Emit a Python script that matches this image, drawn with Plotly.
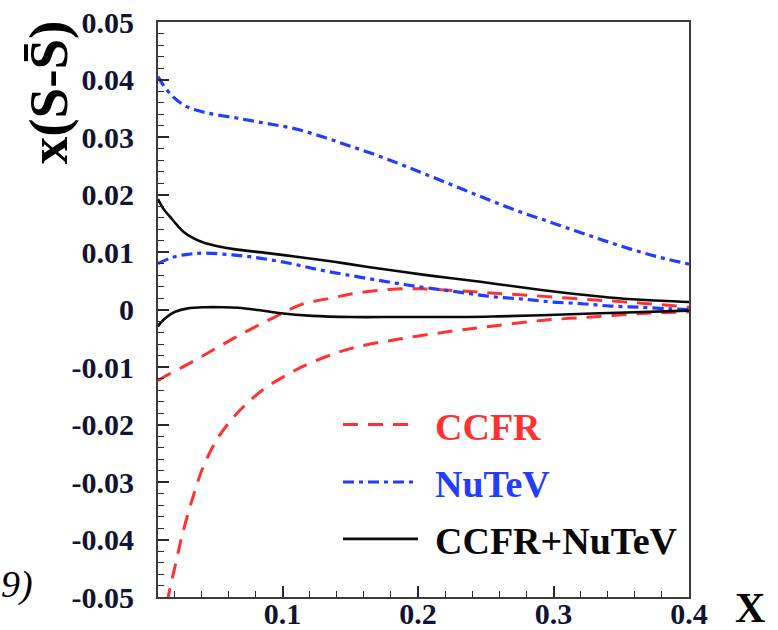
import plotly.graph_objects as go

# NuTeV band (blue dash-dot)
nutev_up_x = [0.008, 0.012, 0.02, 0.03, 0.044, 0.066, 0.087, 0.108, 0.13, 0.15, 0.171, 0.192, 0.212, 0.233, 0.253, 0.274, 0.295, 0.316, 0.336, 0.357, 0.378, 0.4]
nutev_up_y = [0.0405, 0.0390, 0.0368, 0.0352, 0.0342, 0.0333, 0.0324, 0.0315, 0.0300, 0.0284, 0.0267, 0.0248, 0.0229, 0.0209, 0.0190, 0.0171, 0.0154, 0.0137, 0.0121, 0.0105, 0.0091, 0.0079]
nutev_lo_x = [0.008, 0.019, 0.03, 0.041, 0.063, 0.084, 0.106, 0.127, 0.148, 0.170, 0.191, 0.212, 0.234, 0.256, 0.278, 0.299, 0.321, 0.342, 0.364, 0.386, 0.4]
nutev_lo_y = [0.0080, 0.0091, 0.0096, 0.0098, 0.0095, 0.0089, 0.0080, 0.0069, 0.0060, 0.0051, 0.0043, 0.0036, 0.0029, 0.0022, 0.0018, 0.0013, 0.0010, 0.0006, 0.0004, 0.0001, 0.0000]

# CCFR+NuTeV band (black solid)
comb_up_x = [0.008, 0.012, 0.017, 0.022, 0.027, 0.034, 0.042, 0.052, 0.064, 0.089, 0.113, 0.138, 0.163, 0.187, 0.212, 0.237, 0.259, 0.291, 0.316, 0.341, 0.365, 0.4]
comb_up_y = [0.0192, 0.0175, 0.0161, 0.0147, 0.0135, 0.0124, 0.0116, 0.0110, 0.0105, 0.0098, 0.0091, 0.0083, 0.0074, 0.0066, 0.0058, 0.0051, 0.0044, 0.0034, 0.0027, 0.0021, 0.0017, 0.0013]
comb_lo_x = [0.008, 0.0096, 0.0145, 0.0207, 0.030, 0.043, 0.055, 0.067, 0.082, 0.097, 0.122, 0.150, 0.187, 0.237, 0.259, 0.291, 0.341, 0.4]
comb_lo_y = [-0.0030, -0.0024, -0.0013, -0.0004, 0.0002, 0.0004, 0.0004, 0.0003, -0.0001, -0.0006, -0.0011, -0.0013, -0.0013, -0.0013, -0.0012, -0.0010, -0.0006, -0.0002]

# CCFR band (red dashed)
ccfr_up_x = [0.008, 0.0111, 0.0333, 0.0526, 0.0726, 0.0926, 0.113, 0.136, 0.156, 0.179, 0.2, 0.219, 0.241, 0.259, 0.286, 0.328, 0.365, 0.4]
ccfr_up_y = [-0.0124, -0.0119, -0.0091, -0.0065, -0.0039, -0.0015, 0.0008, 0.0020, 0.0029, 0.0035, 0.0036, 0.0034, 0.0031, 0.0028, 0.0024, 0.0017, 0.0011, 0.0004]
ccfr_lo_x = [0.0148, 0.0163, 0.0215, 0.0259, 0.0333, 0.0415, 0.0526, 0.0674, 0.0852, 0.1037, 0.1185, 0.150, 0.187, 0.224, 0.254, 0.291, 0.328, 0.365, 0.4]
ccfr_lo_y = [-0.0510, -0.0491, -0.0437, -0.0392, -0.0330, -0.0273, -0.0222, -0.0178, -0.0140, -0.0113, -0.0095, -0.0068, -0.0051, -0.0038, -0.0029, -0.0019, -0.0013, -0.0007, -0.0004]

y_ticks = [0.05, 0.04, 0.03, 0.02, 0.01, 0, -0.01, -0.02, -0.03, -0.04, -0.05]
y_tick_text = ["0.05", "0.04", "0.03", "0.02", "0.01", "0", "-0.01", "-0.02", "-0.03", "-0.04", "-0.05"]
x_ticks = [0.1, 0.2, 0.3, 0.4]
x_tick_text = ["0.1", "0.2", "0.3", "0.4"]

legend_names = ["CCFR", "NuTeV", "CCFR+NuTeV"]

RED = "rgb(255,50,50)"
BLUE = "rgb(35,60,255)"
BLACK = "rgb(10,10,10)"
SERIF = "Liberation Serif"
RED_DASH = "15px,10px"
BLUE_DASH = "11px,5px,4px,5px"

fig = go.Figure()

def add(x, y, name, color, dash, width):
    fig.add_trace(go.Scatter(
        x=x, y=y, mode="lines", name=name, showlegend=False,
        line=dict(color=color, dash=dash, width=width, shape="spline", smoothing=1.0),
    ))

add(ccfr_up_x, ccfr_up_y, "CCFR", RED, RED_DASH, 3)
add(ccfr_lo_x, ccfr_lo_y, "CCFR", RED, RED_DASH, 3)
add(nutev_up_x, nutev_up_y, "NuTeV", BLUE, BLUE_DASH, 3.2)
add(nutev_lo_x, nutev_lo_y, "NuTeV", BLUE, BLUE_DASH, 3.2)
add(comb_up_x, comb_up_y, "CCFR+NuTeV", BLACK, "solid", 2.6)
add(comb_lo_x, comb_lo_y, "CCFR+NuTeV", BLACK, "solid", 2.6)

fig.update_layout(
    width=778, height=630,
    margin=dict(l=158, r=89, t=22, b=33),
    paper_bgcolor="white", plot_bgcolor="white",
    font=dict(family=SERIF, color="rgb(15,20,50)"),
    showlegend=False,
)

axis_common = dict(
    showgrid=False, zeroline=False, automargin=False,
    showline=True, linecolor="rgb(60,60,60)", linewidth=2, mirror=True,
    ticks="inside", ticklen=11, tickwidth=1.6, tickcolor="rgb(40,40,40)",
    ticklabeloverflow="allow",
    tickfont=dict(family=SERIF, size=30, weight="bold", color="rgb(15,20,50)"),
)
fig.update_xaxes(
    range=[0.008, 0.4], tickvals=x_ticks, ticktext=x_tick_text,
    minor=dict(dtick=0.02, tick0=0, ticks="inside", ticklen=6, tickwidth=1.3, tickcolor="rgb(40,40,40)"),
    ticklabelstandoff=-11,
    **axis_common,
)
fig.update_yaxes(
    range=[-0.05, 0.05], tickvals=y_ticks, ticktext=y_tick_text,
    ticklabelstandoff=16,
    minor=dict(dtick=0.002, tick0=0, ticks="inside", ticklen=6, tickwidth=1.3, tickcolor="rgb(40,40,40)"),
    **axis_common,
)

# legend drawn as keys + labels
leg_colors = [RED, BLUE, BLACK]
leg_dash = [RED_DASH, BLUE_DASH, "solid"]
leg_width = [3, 3.2, 2.8]
leg_y = [0.300, 0.2000, 0.1010]
for name, c, d, w, yy in zip(legend_names, leg_colors, leg_dash, leg_width, leg_y):
    fig.add_shape(type="line", xref="paper", yref="paper",
                  x0=0.3484, x1=0.4896, y0=yy, y1=yy,
                  line=dict(color=c, dash=d, width=w))
    fig.add_annotation(text="<b>%s</b>" % name, xref="paper", yref="paper",
                       x=0.518, y=yy - 0.004, xanchor="left", yanchor="middle",
                       showarrow=False, font=dict(family=SERIF, size=38, color=c))

fig.add_annotation(
    text="<b>x(S-S\u0304)</b>", xref="paper", yref="paper",
    x=-0.207, y=0.878, xanchor="center", yanchor="middle", textangle=-90,
    showarrow=False, font=dict(family=SERIF, size=55, color="black"),
)
fig.add_annotation(
    text="<b>X</b>", xref="paper", yref="paper",
    x=1.115, y=-0.019, xanchor="center", yanchor="middle",
    showarrow=False, font=dict(family=SERIF, size=42, color="black"),
)
fig.add_annotation(
    text="<i>9)</i>", xref="paper", yref="paper",
    x=-0.300, y=0.021, xanchor="left", yanchor="middle",
    showarrow=False, font=dict(family=SERIF, size=38, color="black"),
)

# remove the default 8px page margin so the 778x630 figure fills the window
fig.write_html(
    "out.html",
    config={"displayModeBar": False},
    post_script="document.body.style.margin='0';document.body.style.overflow='hidden';",
)
